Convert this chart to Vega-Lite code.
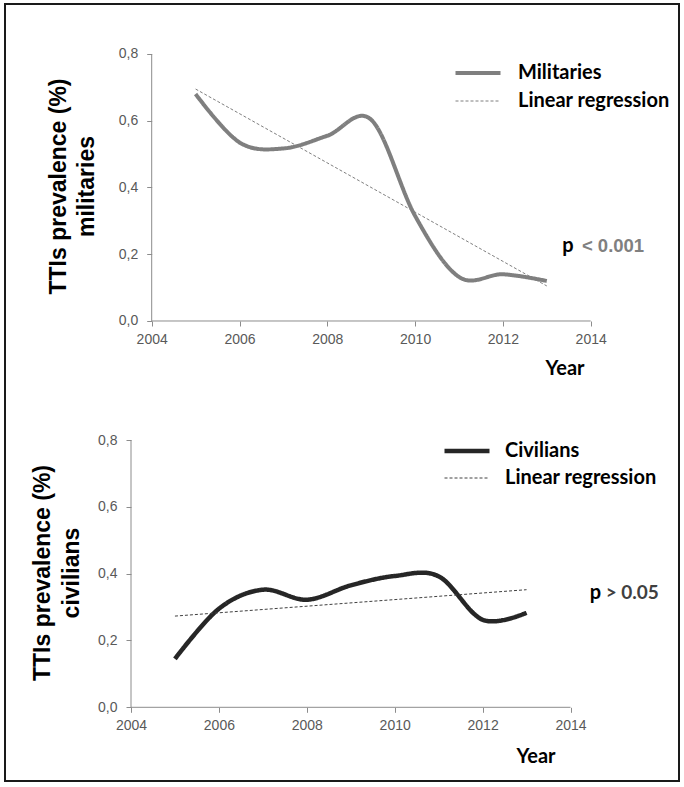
{
  "$schema": "https://vega.github.io/schema/vega-lite/v6.json",
  "width": 684,
  "height": 787,
  "autosize": {"type": "fit", "contains": "padding"},
  "padding": {"left": 5, "top": 4, "right": 5, "bottom": 6},
  "background": "white",
  "config": {
    "view": {"stroke": "#1a1a1a", "strokeWidth": 2},
    "font": "Liberation Sans",
    "axis": {"grid": false, "domain": false, "tickColor": "#8c8c8c", "tickSize": 5, "labelColor": "#595959", "labelFontSize": 14, "labelFont": "Liberation Sans", "titleColor": "#000000"}
  },
  "datasets": {
    "mil": [
      {"year": 2005, "v": 0.68, "s": "Militaries"},
      {"year": 2006, "v": 0.535, "s": "Militaries"},
      {"year": 2007, "v": 0.517, "s": "Militaries"},
      {"year": 2008, "v": 0.555, "s": "Militaries"},
      {"year": 2009, "v": 0.603, "s": "Militaries"},
      {"year": 2010, "v": 0.315, "s": "Militaries"},
      {"year": 2011, "v": 0.132, "s": "Militaries"},
      {"year": 2012, "v": 0.14, "s": "Militaries"},
      {"year": 2013, "v": 0.12, "s": "Militaries"},
      {"year": 2005, "v": 0.695, "s": "Linear regression"},
      {"year": 2013, "v": 0.105, "s": "Linear regression"}
    ],
    "civ": [
      {"year": 2005, "v": 0.145, "s": "Civilians"},
      {"year": 2006, "v": 0.295, "s": "Civilians"},
      {"year": 2007, "v": 0.352, "s": "Civilians"},
      {"year": 2008, "v": 0.322, "s": "Civilians"},
      {"year": 2009, "v": 0.365, "s": "Civilians"},
      {"year": 2010, "v": 0.393, "s": "Civilians"},
      {"year": 2011, "v": 0.392, "s": "Civilians"},
      {"year": 2012, "v": 0.262, "s": "Civilians"},
      {"year": 2013, "v": 0.283, "s": "Civilians"},
      {"year": 2005, "v": 0.273, "s": "Linear regression"},
      {"year": 2013, "v": 0.352, "s": "Linear regression"}
    ]
  },
  "layer": [
    {
      "layer": [
        {
          "data": {"name": "mil"},
          "mark": {"type": "line", "interpolate": "cardinal"},
          "encoding": {
            "x": {"field": "year", "type": "quantitative",
              "scale": {"domain": [2000.6583, 2016.0114], "nice": false, "zero": false},
              "axis": {"orient": "bottom", "offset": -460, "values": [2004, 2006, 2008, 2010, 2012, 2014], "format": "d", "labelPadding": 6,
                "title": "Year", "titleFont": "Lato", "titleFontSize": 20, "titleFontWeight": "bold", "titleX": 579, "titleY": 47, "titleAlign": "right", "titleBaseline": "middle", "titleAnchor": null}},
            "y": {"field": "v", "type": "quantitative",
              "scale": {"domain": [-1.37828, 0.94981], "nice": false, "zero": false},
              "axis": {"orient": "left", "offset": -146.7, "values": [0, 0.2, 0.4, 0.6, 0.8], "labelExpr": "replace(format(datum.value, '.1f'), '.', ',')", "labelPadding": 9,
                "title": ["TTIs prevalence (%)", "militaries"], "titleFont": "Liberation Sans", "titleFontSize": 23, "titleFontWeight": "bold", "titleAngle": 270, "titleX": -86, "titleY": 182, "titleAlign": "center", "titleBaseline": "alphabetic", "titleLineHeight": 28}},
            "color": {"field": "s", "type": "nominal",
              "scale": {"domain": ["Militaries", "Linear regression"], "range": ["#7f7f7f", "#7f7f7f"]},
              "legend": {"title": null, "orient": "none", "legendX": 463, "legendY": 59, "symbolType": "M-3,0H3", "symbolSize": 225, "labelFont": "Lato", "labelFontSize": 20, "labelFontWeight": "bold", "labelColor": "#000000", "labelOffset": 30, "rowPadding": 8,
                "encode": {"symbols": {"update": {"strokeWidth": {"signal": "datum.value === 'Militaries' ? 4 : 1"}}}}}},
            "strokeDash": {"field": "s", "type": "nominal",
              "scale": {"domain": ["Militaries", "Linear regression"], "range": [[1, 0], [3, 2]]},
              "legend": {"title": null, "orient": "none", "legendX": 463, "legendY": 59, "symbolType": "M-3,0H3", "symbolSize": 225, "labelFont": "Lato", "labelFontSize": 20, "labelFontWeight": "bold", "labelColor": "#000000", "labelOffset": 30, "rowPadding": 8,
                "encode": {"symbols": {"update": {"strokeWidth": {"signal": "datum.value === 'Militaries' ? 4 : 1"}}}}}},
            "strokeWidth": {"condition": {"test": "datum.s === 'Militaries'", "value": 4}, "value": 1}
          }
        },
        {
          "data": {"values": [{}]},
          "mark": {"type": "rule", "color": "#8c8c8c", "strokeWidth": 1},
          "encoding": {"x": {"datum": 2004, "type": "quantitative"}, "y": {"datum": 0, "type": "quantitative"}, "y2": {"datum": 0.8}}
        },
        {
          "data": {"values": [{}]},
          "mark": {"type": "rule", "color": "#8c8c8c", "strokeWidth": 1},
          "encoding": {"x": {"datum": 2004, "type": "quantitative"}, "x2": {"datum": 2014}, "y": {"datum": 0, "type": "quantitative"}}
        },
        {
          "data": {"values": [{}]},
          "mark": {"type": "text", "font": "Lato", "fontSize": 20, "fontWeight": "bold", "color": "#000000", "align": "left", "baseline": "middle"},
          "encoding": {"x": {"datum": 2013.35, "type": "quantitative"}, "y": {"datum": 0.2247, "type": "quantitative"}, "text": {"value": "p"}}
        },
        {
          "data": {"values": [{}]},
          "mark": {"type": "text", "font": "Liberation Sans", "fontSize": 18.5, "fontWeight": "bold", "color": "#808080", "align": "left", "baseline": "middle"},
          "encoding": {"x": {"datum": 2013.8, "type": "quantitative"}, "y": {"datum": 0.2247, "type": "quantitative"}, "text": {"value": "< 0.001"}}
        }
      ]
    },
    {
      "layer": [
        {
          "data": {"name": "civ"},
          "mark": {"type": "line", "interpolate": "cardinal"},
          "encoding": {
            "x": {"field": "year", "type": "quantitative",
              "scale": {"domain": [2001.1331, 2016.4687], "nice": false, "zero": false},
              "axis": {"orient": "bottom", "offset": -73.7, "values": [2004, 2006, 2008, 2010, 2012, 2014], "format": "d", "labelPadding": 6,
                "title": "Year", "titleFont": "Lato", "titleFontSize": 20, "titleFontWeight": "bold", "titleX": 550, "titleY": 48.7, "titleAlign": "right", "titleBaseline": "middle", "titleAnchor": null}},
            "y": {"field": "v", "type": "quantitative",
              "scale": {"domain": [-0.22059, 2.10506], "nice": false, "zero": false},
              "axis": {"orient": "left", "offset": -126, "values": [0, 0.2, 0.4, 0.6, 0.8], "labelExpr": "replace(format(datum.value, '.1f'), '.', ',')", "labelPadding": 9,
                "title": ["TTIs prevalence (%)", "civilians"], "titleFont": "Liberation Sans", "titleFontSize": 23, "titleFontWeight": "bold", "titleAngle": 270, "titleX": -81.5, "titleY": 568.5, "titleAlign": "center", "titleBaseline": "alphabetic", "titleLineHeight": 29}},
            "color": {"field": "s", "type": "nominal",
              "scale": {"domain": ["Civilians", "Linear regression"], "range": ["#262626", "#404040"]},
              "legend": {"title": null, "orient": "none", "legendX": 452, "legendY": 437, "symbolType": "M-3,0H3", "symbolSize": 225, "labelFont": "Lato", "labelFontSize": 20, "labelFontWeight": "bold", "labelColor": "#000000", "labelOffset": 28, "rowPadding": 7,
                "encode": {"symbols": {"update": {"strokeWidth": {"signal": "datum.value === 'Civilians' ? 4.5 : 1"}}}}}},
            "strokeDash": {"field": "s", "type": "nominal",
              "scale": {"domain": ["Civilians", "Linear regression"], "range": [[1, 0], [3, 2]]},
              "legend": {"title": null, "orient": "none", "legendX": 452, "legendY": 437, "symbolType": "M-3,0H3", "symbolSize": 225, "labelFont": "Lato", "labelFontSize": 20, "labelFontWeight": "bold", "labelColor": "#000000", "labelOffset": 28, "rowPadding": 7,
                "encode": {"symbols": {"update": {"strokeWidth": {"signal": "datum.value === 'Civilians' ? 4.5 : 1"}}}}}},
            "strokeWidth": {"condition": {"test": "datum.s === 'Civilians'", "value": 4.5}, "value": 1}
          }
        },
        {
          "data": {"values": [{}]},
          "mark": {"type": "rule", "color": "#8c8c8c", "strokeWidth": 1},
          "encoding": {"x": {"datum": 2004, "type": "quantitative"}, "y": {"datum": 0, "type": "quantitative"}, "y2": {"datum": 0.8}}
        },
        {
          "data": {"values": [{}]},
          "mark": {"type": "rule", "color": "#8c8c8c", "strokeWidth": 1},
          "encoding": {"x": {"datum": 2004, "type": "quantitative"}, "x2": {"datum": 2014}, "y": {"datum": 0, "type": "quantitative"}}
        },
        {
          "data": {"values": [{}]},
          "mark": {"type": "text", "font": "Lato", "fontSize": 20, "fontWeight": "bold", "color": "#000000", "align": "left", "baseline": "middle"},
          "encoding": {"x": {"datum": 2014.44, "type": "quantitative"}, "y": {"datum": 0.343, "type": "quantitative"}, "text": {"value": "p"}}
        },
        {
          "data": {"values": [{}]},
          "mark": {"type": "text", "font": "Lato", "fontSize": 19, "fontWeight": "bold", "color": "#404040", "align": "left", "baseline": "middle"},
          "encoding": {"x": {"datum": 2014.8, "type": "quantitative"}, "y": {"datum": 0.343, "type": "quantitative"}, "text": {"value": "> 0.05"}}
        }
      ]
    }
  ],
  "resolve": {
    "scale": {"x": "independent", "y": "independent", "color": "independent", "strokeDash": "independent"},
    "axis": {"x": "independent", "y": "independent"},
    "legend": {"color": "independent", "strokeDash": "independent"}
  }
}
